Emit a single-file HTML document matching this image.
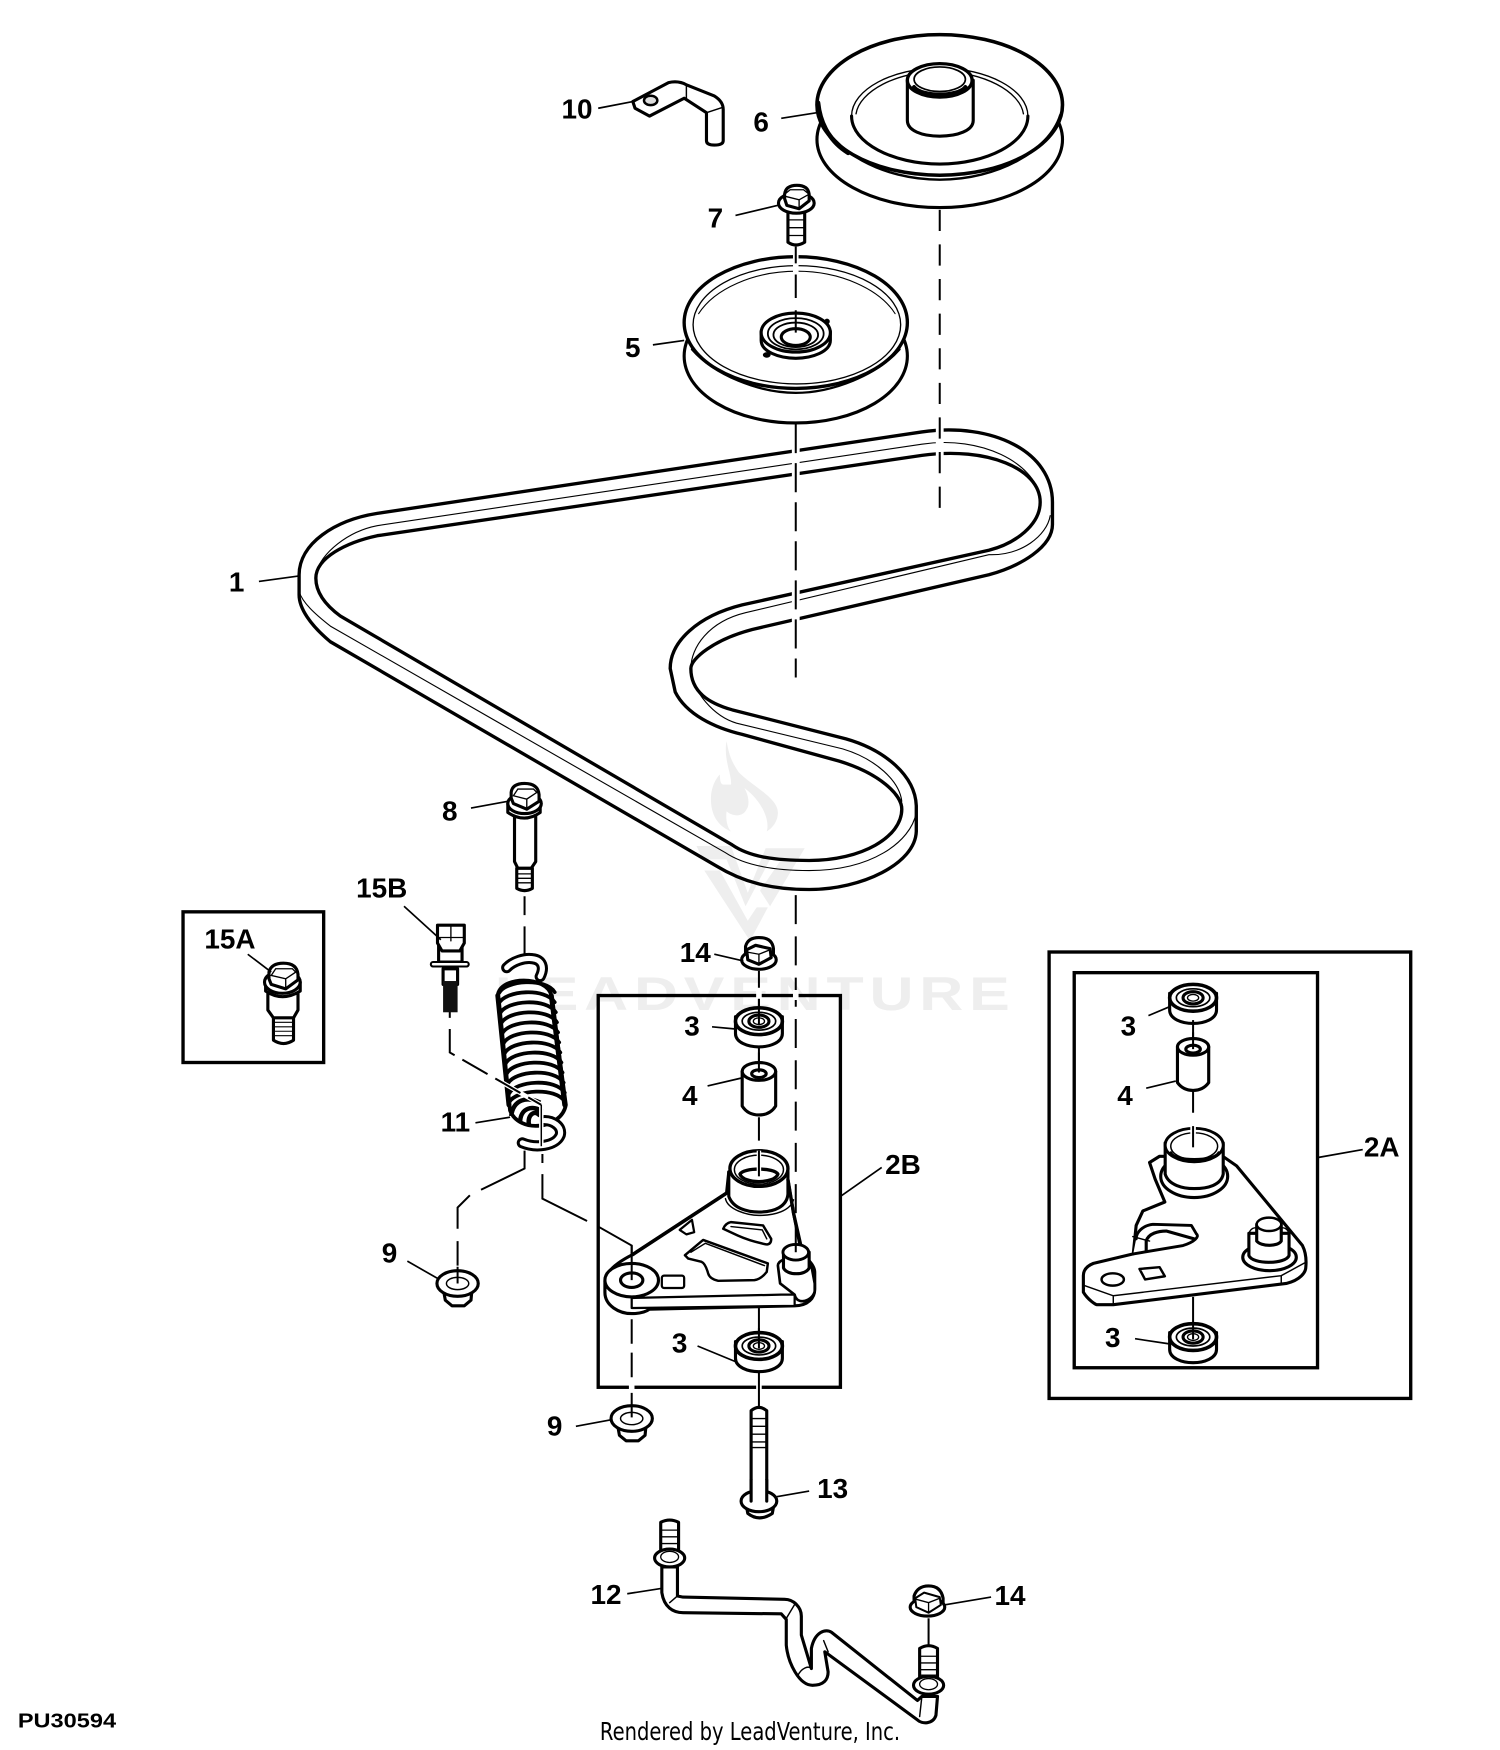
<!DOCTYPE html>
<html><head><meta charset="utf-8"><style>
html,body{margin:0;padding:0;background:#fff;width:1500px;height:1750px;overflow:hidden}
svg{display:block}
text{font-family:"Liberation Sans",sans-serif;font-weight:bold;font-size:25px;fill:#000;text-anchor:middle}
.o{fill:#fff;stroke:#000;stroke-width:2.8;stroke-linejoin:round;stroke-linecap:round}
.n{fill:none;stroke:#000;stroke-width:2.8;stroke-linejoin:round;stroke-linecap:round}
.t{fill:none;stroke:#000;stroke-width:1;stroke-linecap:round}
.l{fill:none;stroke:#000;stroke-width:1.5}
.d{fill:none;stroke:#000;stroke-width:1.8}
.h{fill:none;stroke:#fff;stroke-width:8}
</style></head><body>
<svg xmlns="http://www.w3.org/2000/svg" width="1500" height="1750" viewBox="0 0 1344 1568">
<defs>
<g id="bearing">
<path class="o" d="M-21 -6 V9 C-21 17 -10 21 0 21 C10 21 21 17 21 9 V-6 Z"/>
<ellipse class="o" cx="0" cy="-2" rx="21" ry="12" style="stroke-width:3.2"/>
<ellipse class="t" cx="0" cy="-2" rx="15" ry="8" style="stroke-width:1.5"/>
<ellipse class="n" cx="0" cy="-2" rx="9" ry="5.5"/>
<ellipse fill="#fff" stroke="#000" stroke-width="1.2" cx="0" cy="-2" rx="5" ry="3"/>
</g>
<g id="nut">
<path class="o" d="M-13 4 L-11 15 L-5 20 H6 L12 15 L13 4 Z"/>
<ellipse class="o" cx="0" cy="0" rx="18.5" ry="11.5"/>
<ellipse class="t" cx="0" cy="0" rx="10" ry="5.5" style="stroke-width:1.3"/>
</g>
<g id="coil"><path d="M0 9 C6 -3 42 -5 50 8" fill="none" stroke="#000" stroke-width="3.4" stroke-linecap="round"/></g>
</defs>

<!-- watermark -->
<g fill="#eeeeee">
<path d="M651 664 C653 675 655 682 662 692 C675 705 697 715 697 728 C697 736 692 742 687 745 C690 735 683 718 667 706 C672 715 671 723 669 725 C666 732 657 732 651 727 C650 735 652 742 655 745 C643 740 637 730 637 716 C637 706 641 698 645 694 C645 700 646 703 648 703 L655 703 C656 695 648 680 651 664 Z"/>
<path d="M624 758 H655 L670 800 L686 760 H721 L690 812 L681 798 L700 770 H690 L668 812 L651 770 H630 Z"/>
<path d="M631 780 H645 L670 825 L678 813 H688 L672 843 Z"/>
<text transform="translate(674,905) scale(1.3,1)" x="0" y="0" style="fill:#eeeeee;font-size:42px" textLength="355" lengthAdjust="spacing">LEADVENTURE</text>
</g>

<!-- belt -->
<path class="n" style="stroke-width:3" d="M268 515 C268 487 300 466 338 460 L826 387 C890 378 943 405 943 450 V470 C943 490 915 507 886 515 L674 564 C640 573 619 590 619 599 C619 620 635 630 656 636 L758 662 C793 672 820 695 821 722 V745 C820 774 772 797 725 797 C690 797 665 790 642 776 L296 575 C278 560 268 545 268 533 Z"/>
<path class="n" style="stroke-width:3" d="M283 518 C283 500 310 486 338 480 L826 408 C885 400 932 420 932 450 C932 470 910 487 886 493 L665 542 C625 552 600.5 575 600.5 599 L605 620 C615 640 640 652 665 658 L752 682 C788 693 808 712 808 725 C808 750 772 771 725 771 C695 771 672 768 656 757 L305 552 C290 541 283 530 283 518 Z"/>
<path class="t" d="M283 514 C288 495 312 476 338 471 L826 398 C880 390 926 415 932 445"/>
<path class="t" d="M941 462 C938 480 915 498 886 497 L668 549 C635 557 619 580 619 599 C620 620 640 642 660 648 L755 671 C785 680 806 700 808 718 M821 728 C816 755 780 780 725 780 C690 780 665 774 650 764 L296 561 C282 550 271 540 268 530"/>
<path class="h" style="stroke-width:7" d="M713 380 V612"/><path class="h" style="stroke-width:7" d="M842 380 V462"/>

<!-- pulley 6 -->
<path class="d" stroke-dasharray="19 12" d="M842 188 V460"/>
<ellipse class="o" cx="842" cy="125" rx="110" ry="61"/>
<ellipse class="o" style="stroke-width:3.2" cx="842" cy="94" rx="110" ry="63"/>
<path class="n" style="stroke-width:2.2" d="M734 103 C745 135 790 161 842 161 C894 161 940 135 950 103"/>
<path class="n" style="stroke-width:4" d="M733 92 C735 112 745 128 760 137"/>
<path class="n" d="M763 104 C763 128 800 147 842 147 C884 147 921 128 921 104"/>
<path class="t" style="stroke-width:1.2" d="M763 104 C763 80 800 61 842 61 C884 61 921 80 921 104"/>
<path class="t" style="stroke-width:1.2" d="M767 102 C770 82 803 64 842 64 C881 64 914 82 917 102"/>
<path class="o" d="M813 72 V108 C813 117 826 122 842 122 C858 122 872 117 872 108 V72 Z"/>
<ellipse class="o" style="stroke-width:3" cx="842" cy="72" rx="29" ry="15"/>
<ellipse class="o" style="stroke-width:1.5" cx="842" cy="71" rx="23" ry="11"/>
<path class="n" style="stroke-width:3.6" d="M819 78 C826 87 858 87 865 78"/>

<!-- pulley 5 -->
<ellipse class="o" cx="713" cy="319" rx="100" ry="60"/>
<ellipse class="o" style="stroke-width:3" cx="713" cy="289" rx="100" ry="59"/>
<path class="n" style="stroke-width:2" d="M620 313 C640 336 680 352 713 352 C746 352 786 336 806 313"/>
<ellipse class="t" style="stroke-width:1.2" cx="714" cy="291" rx="93" ry="53"/>
<path class="t" style="stroke-width:1" d="M626 281 C640 259 675 243 714 243 C753 243 788 259 802 281"/>
<path class="o" d="M682 297 V305 C682 315 698 321 713 321 C728 321 744 315 744 305 V297 Z"/>
<ellipse class="o" cx="713" cy="298" rx="31" ry="17.5"/>
<ellipse class="t" cx="713" cy="299" rx="25" ry="14" style="stroke-width:1.6"/>
<ellipse class="t" cx="713" cy="300" rx="20" ry="11" style="stroke-width:1.6"/>
<ellipse class="n" cx="713" cy="302" rx="13" ry="7.5"/>
<circle cx="741" cy="288" r="2.5"/><ellipse cx="687" cy="318" rx="3.5" ry="2.5"/>
<path class="h" style="stroke-width:5" d="M713 226 V244"/>
<path class="d" d="M713 221 V236 M713 246 V267 M713 278 V298"/>

<!-- dashed x=713 -->
<path class="d" stroke-dasharray="26 9" d="M713 380 V607"/>
<path class="d" stroke-dasharray="26 11" d="M713 802 V1108"/>

<!-- 10 bracket -->
<path class="o" d="M567 91 L599 74 Q608 72 615 76 L640 86 Q648 91 648 98 V126 Q648 130 640 130 Q633 130 633 126 V101 L613 88 L582 104 L569 97 Z"/>
<path class="t" style="stroke-width:1.3" d="M615 76 V88 M633 101 L648 96"/>
<ellipse cx="583" cy="90" rx="6" ry="4.2" fill="#ddd" stroke="#000" stroke-width="2.2"/>

<!-- 7 bolt -->
<path class="o" d="M706 190 H721 V217 Q713 222 706 217 Z"/>
<path class="t" style="stroke-width:1.2" d="M706 197 H721 M706 204 H721 M706 211 H721"/>
<ellipse class="o" cx="713.5" cy="182" rx="16" ry="9"/>
<path class="o" d="M703 178 V174 Q704 166 714 166 Q724 166 725 174 V180 L716 187 L705 184 Z"/>
<path class="t" style="stroke-width:1.2" d="M703 174 L708 170 H720 L725 174 L716 179 L704 176 M716 179 V187"/>

<!-- 8 bolt -->
<path class="o" d="M461 730 V772 L464 778 H476 L480 772 V730 Z"/>
<path class="o" d="M463 778 V796 Q470 800 477 796 V778 Z"/>
<path class="t" style="stroke-width:1.2" d="M463 783 H477 M463 787 H477 M463 791 H477"/>
<path class="o" d="M455 720 V728 Q470 738 484 728 V720 Z"/>
<ellipse class="o" cx="470" cy="720" rx="15" ry="9"/>
<path class="o" d="M458 715 V710 Q459 702 470 702 Q482 702 483 712 V718 L472 725 L460 720 Z"/>
<path class="t" style="stroke-width:1.2" d="M460 713 L464 707 H478 L481 710 L472 716 Z M472 716 V724"/>
<path class="d" d="M470 803 V820 M470 830 V857"/>

<!-- spring -->
<path class="o" style="stroke-width:3.4" d="M446 892 C448 874 490 874 494 892 L507 990 C503 1012 465 1016 457 995 Z"/>
<use href="#coil" x="447" y="881"/><use href="#coil" x="447" y="890"/><use href="#coil" x="448" y="899"/>
<use href="#coil" x="449" y="908"/><use href="#coil" x="450" y="917"/><use href="#coil" x="451" y="926"/>
<use href="#coil" x="452" y="935"/><use href="#coil" x="453" y="944"/><use href="#coil" x="454" y="953"/>
<use href="#coil" x="455" y="962"/><use href="#coil" x="456" y="971"/><use href="#coil" x="456" y="979"/>
<path class="n" style="stroke-width:4.4" d="M446 892 L456 990 M494 892 L506 990"/>
<path fill="none" stroke="#000" stroke-width="10" stroke-linecap="round" d="M454 867 C460 861 470 858 477 859 C486 860 488 867 484 875"/>
<path fill="none" stroke="#fff" stroke-width="4.6" stroke-linecap="round" d="M454 867 C460 861 470 858 477 859 C486 860 488 867 484 875"/>
<path fill="none" stroke="#000" stroke-width="4" d="M458 1000 C460 985 472 982 484 988 M466 1006 C466 992 478 990 486 996 M474 1008 C472 998 480 994 484 1000"/>
<path fill="none" stroke="#000" stroke-width="10" stroke-linecap="round" d="M468 1024 C480 1029 498 1027 502 1017 C504 1009 495 1004 488 1004"/>
<path fill="none" stroke="#fff" stroke-width="4.6" stroke-linecap="round" d="M468 1024 C480 1029 498 1027 502 1017 C504 1009 495 1004 488 1004"/>
<path class="h" style="stroke-width:4" d="M403 943 L485 990 V1025"/>
<path class="d" stroke-dasharray="26 8" d="M403 922 V943 L485 990"/>
<path class="d" d="M403 906 V912"/>
<path fill="none" stroke="#000" stroke-width="1.3" d="M485 990 V1027"/>

<path class="d" d="M470 1031 V1047 L431 1066 M421 1071 L410 1082 V1101 M410 1112 V1134"/>
<path class="d" d="M486 1034 V1042 M486 1052 V1074 L526 1094 M536 1099 L566 1116 V1140"/>

<!-- 15A box -->
<rect x="164" y="817" width="126" height="135" fill="none" stroke="#000" stroke-width="3"/>
<path class="o" d="M245 910 V932 Q254 938 263 932 V910 Z"/>
<path class="t" d="M245 916 H263 M245 920 H263 M245 924 H263 M245 928 H263"/>
<path class="o" d="M240 888 V905 L245 912 H263 L267 905 V888 Z"/>
<path class="o" d="M238 880 V888 Q253 898 269 888 V880 Z"/>
<ellipse class="o" cx="253" cy="880" rx="16" ry="10"/>
<path class="o" d="M241 877 V871 Q243 863 254 863 Q266 863 267 873 V878 L256 886 L243 882 Z"/>
<path class="t" style="stroke-width:1.2" d="M243 874 L247 868 H262 L265 871 L256 877 Z M256 877 V885"/>

<!-- 15B -->
<rect x="397" y="868" width="13" height="14" class="o"/>
<rect x="397" y="879" width="13" height="28" fill="#111"/>
<path class="o" d="M393 846 H414 V862 H393 Z"/>
<path class="o" d="M392 829 H416 V845 L412 852 H396 L392 845 Z"/>
<path class="t" style="stroke-width:1.2" d="M404 830 V843 M392 840 H416"/>
<rect x="386" y="862" width="34" height="4" rx="2" class="o" style="stroke-width:1.8"/>

<!-- nuts 9 -->
<use href="#nut" x="410" y="1150"/>
<use href="#nut" x="566" y="1271"/>
<path class="d" d="M566 1122 V1240 " stroke-dasharray="22 8"/>
<path class="d" d="M566 1245 V1270"/>
<path class="d" d="M410 1135 V1150" />

<!-- 2B box -->
<rect x="536" y="892" width="217" height="351" fill="none" stroke="#000" stroke-width="3"/>
<path class="h" style="stroke-width:5" d="M680 887 V896 M713 887 V896 M566 1238 V1248 M680 1238 V1248"/>

<!-- 14 nut upper -->
<path class="o" d="M668 848 Q670 840 680 840 Q692 840 693 850 V862 H668 Z"/>
<ellipse class="o" cx="680" cy="860" rx="15.5" ry="8.5"/>
<path class="o" d="M669 851 L677 847 L690 850 L691 858 L680 864 L670 860 Z"/>
<path class="t" style="stroke-width:1.2" d="M669 853 L680 855 L690 851 M680 855 V864"/>
<path class="d" d="M680 870 V885 M680 895 V911"/>

<use href="#bearing" x="680" y="917"/>
<path class="d" d="M680 895 V918 M680 937 V953"/>

<!-- spacer -->
<path class="o" d="M665 960 V991 Q670 999 680 999 Q690 999 695 991 V960 Z"/>
<ellipse class="o" cx="680" cy="960" rx="15" ry="8"/>
<ellipse class="n" cx="680" cy="962" rx="6.5" ry="3.5"/>
<path class="d" d="M680 943 V961 M680 1001 V1022 M680 1031 V1054"/>

<!-- arm 2B -->
<path class="o" d="M651 1069 L567 1124 C555 1130 543 1138 542 1148 V1158 C542 1170 555 1177 566 1177 C572 1177 578 1176 582 1173 L712 1170 C724 1170 730 1163 730 1155 V1140 C730 1133 722 1127 718 1122 L711 1087 L706 1057 L653 1050 Z"/>
<path class="n" style="stroke-width:3.2" d="M651 1069 L567 1124"/>
<path class="o" d="M653 1050 V1072 C657 1083 670 1086 680 1086 C694 1086 705 1081 706 1070 V1050 Z"/>
<path class="t" d="M650 1074 C652 1084 670 1089 680 1089 C694 1089 708 1085 711 1075" style="stroke-width:1.3"/>
<ellipse class="o" style="stroke-width:3" cx="680" cy="1047" rx="26" ry="16"/>
<ellipse class="t" style="stroke-width:1.3" cx="680" cy="1048" rx="22" ry="13"/>
<path class="n" style="stroke-width:3" d="M663 1052 C666 1046 694 1046 697 1052 C694 1061 666 1061 663 1052 Z"/>
<path class="h" style="stroke-width:4" d="M680 1031 V1054"/>
<path class="d" d="M680 1031 V1054"/>
<path class="n" d="M706 1057 L711 1087 L718 1118" style="stroke-width:3"/>
<path class="o" style="stroke-width:2.2" d="M648 1101 Q650 1096 655 1095 L683.7 1098 L691 1110 Q691 1115 686.7 1115 Q672 1112 661 1107 Z"/>
<path class="t" d="M655 1099 L683 1102 L687 1110" style="stroke-width:1.3"/>
<path class="o" style="stroke-width:2.2" d="M613.7 1124.7 L630 1111 L688 1132 L687 1139.6 Q682 1146 676 1147 L643.5 1147.6 Q636 1146 634.5 1141 Q632 1132 628.6 1130.6 L616.7 1127.7 Z"/>
<path class="t" d="M619 1122 L632 1114 L685 1134" style="stroke-width:1.3"/>
<path class="o" style="stroke-width:2" d="M609 1102 L620 1093 L622 1104 L615 1106 Z"/>
<rect x="593" y="1143" width="20" height="11" rx="2" class="o" style="stroke-width:2"/>
<ellipse class="o" cx="566" cy="1147" rx="24" ry="15"/>
<ellipse class="n" cx="566" cy="1147" rx="10" ry="6.5"/>
<path class="d" d="M566 1116 V1147"/>
<path class="o" style="stroke-width:2" d="M566 1163 L700 1160 L712 1160 V1170 L566 1172 Z"/>
<path class="o" style="stroke-width:2.4" d="M697 1134 C697 1125 725 1125 727 1134 L730 1150 V1157 C728 1166 714 1170 712 1160 L699 1150 Z"/>
<path class="o" d="M702 1122 V1136 C705 1143 722 1143 725 1136 V1122 Z"/>
<ellipse class="o" style="stroke-width:2.6" cx="713" cy="1122" rx="11.5" ry="7"/>
<path class="d" d="M713 1098 V1122"/>
<path class="d" d="M680 1172 V1196"/>
<use href="#bearing" x="680" y="1208"/>
<path class="d" d="M680 1190 V1208 M680 1229 V1262"/>

<!-- 13 bolt -->
<path class="o" d="M673 1264 Q680 1258 687 1264 V1340 H673 Z"/>
<path class="t" style="stroke-width:1.2" d="M673 1271 H687 M673 1278 H687 M673 1285 H687 M673 1292 H687 M673 1297 H687"/>
<path class="o" d="M668 1345 L670 1356 Q680 1364 692 1356 L694 1345 Z"/>
<ellipse class="o" cx="680" cy="1345" rx="16" ry="9.5"/>
<path d="M674 1326 H686 V1345 H674 Z" fill="#fff"/>
<path class="n" d="M673 1326 V1345 M687 1326 V1345"/>

<!-- 12 pipe -->
<path class="o" d="M593 1404 V1427 C595 1440 603 1445 612 1445 L700 1446 L704.5 1451 V1474 C706 1490 716 1510 728 1510 C738 1510 742 1505 742 1498 L739 1480 L822 1541 C826 1545 836 1545 838.6 1537 L840 1520 H826 L822 1523.6 L745 1462.5 C740 1459 730 1462 727 1477 V1495 L718 1465 V1448 C718 1440 711 1433 703 1433 L612 1431 L607 1430 V1404 Z"/>
<path class="t" style="stroke-width:1.3" d="M607 1430 L600 1436 M713 1436 L704 1451 M715 1501 C718 1495 724 1492 727 1495 M738 1470 L742 1480 M826 1520 L824 1538"/>
<path class="o" d="M592 1364 Q600 1360 608 1364 V1392 H592 Z"/>
<path class="t" style="stroke-width:1.2" d="M592 1371 H608 M592 1377 H608 M592 1383 H608 M592 1389 H608"/>
<ellipse class="o" cx="600" cy="1396" rx="13.5" ry="8"/>
<ellipse class="t" style="stroke-width:1.2" cx="600" cy="1395" rx="8" ry="5"/>
<path class="o" d="M824 1477 Q832 1472 840 1477 V1505 H824 Z"/>
<path class="t" style="stroke-width:1.2" d="M824 1484 H840 M824 1490 H840 M824 1496 H840 M824 1501 H840"/>
<ellipse class="o" cx="832" cy="1510" rx="13.5" ry="8"/>
<ellipse class="t" style="stroke-width:1.2" cx="832" cy="1509" rx="8" ry="5"/>
<path class="o" d="M819 1430 Q822 1421 832 1421 Q843 1421 845 1432 V1442 H819 Z"/>
<ellipse class="o" cx="831" cy="1440" rx="15.5" ry="8"/>
<path class="o" d="M820 1432 L828 1427 L842 1431 L843 1438 L832 1445 L821 1440 Z" style="stroke-width:1.8"/>
<path class="t" style="stroke-width:1.2" d="M821 1433 L832 1436 L842 1432 M832 1436 V1445"/>
<path class="d" d="M832 1450 V1474"/>

<!-- 2A boxes -->
<rect x="940" y="853" width="324" height="400" fill="none" stroke="#000" stroke-width="3"/>
<rect x="962.5" y="871.5" width="218" height="354" fill="none" stroke="#000" stroke-width="3"/>
<use href="#bearing" x="1069" y="896"/>
<path class="d" d="M1069 914 V930"/>
<path class="o" d="M1055 938 V970 Q1060 977 1069 977 Q1078 977 1083 970 V938 Z"/>
<ellipse class="o" cx="1069" cy="938" rx="14" ry="7.5"/>
<ellipse class="n" cx="1069" cy="940" rx="6.5" ry="3.5"/>
<path class="d" d="M1069 925 V940 M1069 977 V997 M1069 1009 V1028"/>
<!-- plate -->
<path class="o" d="M1039 1036 L1030 1041.6 L1035 1056.5 L1043.7 1077 L1024 1085 L1018 1098 L1015.4 1123.5 L979.7 1132 C972 1135 970.7 1140 970.7 1143 V1157.8 C975 1165 982 1169 982.6 1169 H997.5 L1152.5 1150 C1165 1147 1170 1140 1170 1135.4 C1171 1125 1168 1118 1167 1116 L1108 1044.6 L1097 1037 Z"/>
<path class="o" style="stroke-width:2.6" d="M1015.4 1123.5 L1060 1116 C1070 1113 1075 1108 1072 1105.6 L1067.5 1098 L1033 1097 C1024 1098 1018 1104 1018 1110"/>
<path class="n" d="M1027 1120 V1112 C1029 1105 1038 1103 1045 1103 L1070 1110"/>
<path class="t" style="stroke-width:1.3" d="M972 1152 L997.5 1161 L1148 1143 L1170 1131 M997.5 1161 V1169 M1148 1143 V1150"/>
<path class="t" style="stroke-width:1.3" d="M1015 1108 L1030 1112"/>
<ellipse class="o" style="stroke-width:2.2" cx="997" cy="1146.4" rx="10" ry="5.5"/>
<path class="o" style="stroke-width:2.2" d="M1021 1137 L1039 1135.4 L1043.7 1143.5 L1026 1146.4 Z"/>
<ellipse class="o" cx="1070" cy="1054" rx="30" ry="19"/>
<path class="o" d="M1044 1024 V1052 C1047 1062 1060 1065 1070 1065 C1082 1065 1094 1062 1096 1052 V1024 Z"/>
<ellipse class="o" style="stroke-width:2.6" cx="1070" cy="1026" rx="26" ry="15"/>
<ellipse class="t" style="stroke-width:1.3" cx="1070" cy="1027" rx="21" ry="12"/>
<path class="n" d="M1049 1033 C1052 1041 1088 1041 1092 1033"/>
<path class="h" style="stroke-width:5" d="M1069 1004 V1016"/>
<path class="d" d="M1069 1009 V1028"/>
<ellipse class="n" cx="1137.5" cy="1126.5" rx="24" ry="12"/>
<path class="o" d="M1119 1105 V1125 C1122 1133 1152 1133 1155 1125 V1105 Z"/>
<path class="o" d="M1126 1097 V1112 C1130 1117 1145 1117 1148 1112 V1097 Z"/>
<ellipse class="o" style="stroke-width:2.2" cx="1137" cy="1097" rx="11" ry="6"/>
<path class="t" style="stroke-width:1.3" d="M1119 1105 C1121 1100 1124 1100 1126 1100 M1155 1105 C1153 1100 1150 1100 1148 1100"/>
<path class="d" d="M1069 1162 V1185"/>
<use href="#bearing" x="1069" y="1200"/>
<path class="d" d="M1069 1185 V1200"/>

<!-- leaders -->
<path class="l" d="M536 97 L567 91 M700 106 L732 101 M659 193 L697 184 M585 309 L613 305 M232 521 L268 516 M422 724 L455 718 M362 812 L395 842 M222 855 L243 871 M640 855 L666 861 M638 920 L659 922 M634 973 L664 966 M426 1006 L457 1001 M790 1046 L753 1072 M365 1130 L393 1146 M625 1206 L659 1220 M516 1278 L548 1272 M725 1336 L696 1341 M562 1428 L594 1423 M888 1431 L846 1438 M1029 910 L1048 902 M1027 975 L1053.5 968.6 M1221 1030 L1181.6 1037 M1017 1199.5 L1047 1204"/>

<!-- labels -->
<text x="517" y="106">10</text><text x="682" y="118">6</text><text x="641" y="204">7</text><text x="567" y="320">5</text>
<text x="212" y="530">1</text><text x="403" y="735">8</text><text x="342" y="804">15B</text><text x="206" y="850">15A</text>
<text x="623" y="862">14</text><text x="620" y="928">3</text><text x="618" y="990">4</text><text x="408" y="1014">11</text>
<text x="809" y="1052">2B</text><text x="349" y="1131">9</text><text x="609" y="1212">3</text><text x="497" y="1286">9</text>
<text x="746" y="1342">13</text><text x="543" y="1437">12</text><text x="905" y="1438">14</text>
<text x="1011" y="928">3</text><text x="1008" y="990">4</text><text x="1238" y="1036">2A</text><text x="997" y="1207">3</text>
<text x="60" y="1548" style="font-size:18px" textLength="88" lengthAdjust="spacingAndGlyphs">PU30594</text>
<text x="672" y="1559" style="font-weight:normal;font-size:22px;font-family:'DejaVu Sans','Liberation Sans',sans-serif" textLength="269" lengthAdjust="spacingAndGlyphs">Rendered by LeadVenture, Inc.</text>
</svg>
</body></html>
